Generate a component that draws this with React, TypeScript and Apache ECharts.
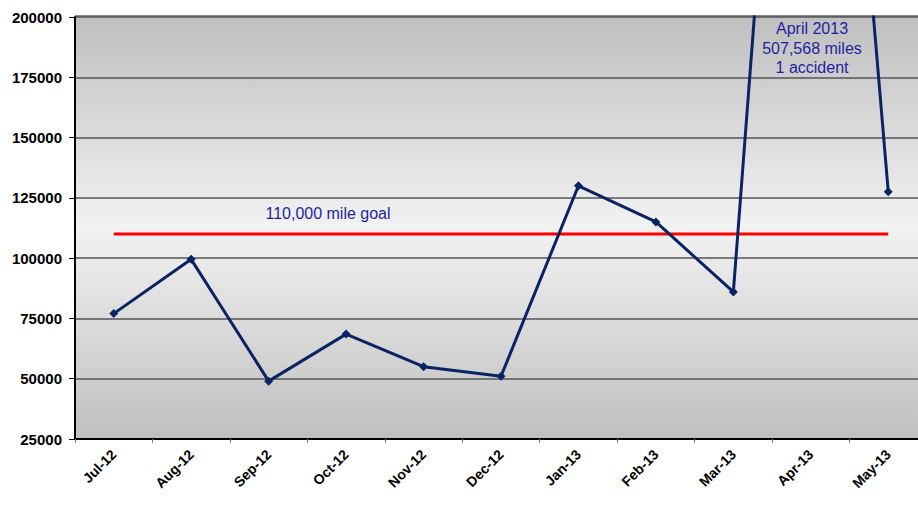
import React, { useEffect, useRef } from "react";
import * as echarts from "echarts";

const categories = ["Jul-12", "Aug-12", "Sep-12", "Oct-12", "Nov-12", "Dec-12", "Jan-13", "Feb-13", "Mar-13", "Apr-13", "May-13"];
const miles = [77000, 99500, 49000, 68500, 55000, 51000, 130000, 115000, 86000, 507568, 127500];
const goal = [110000, 110000, 110000, 110000, 110000, 110000, 110000, 110000, 110000, 110000, 110000];
const goalLabel = "110,000 mile goal";
const aprilNote = "April 2013\n507,568 miles\n1 accident";

export default function App() {
  const ref = useRef<HTMLDivElement>(null);
  useEffect(() => {
    if (!ref.current) return;
    const chart = echarts.init(ref.current, null, { renderer: "svg" });
    chart.setOption({
      animation: false,
      backgroundColor: "#ffffff",
      grid: {
        left: 75, top: 17, right: 0, bottom: 67,
        show: true,
        borderWidth: 0,
        backgroundColor: new echarts.graphic.LinearGradient(0, 0, 0, 1, [
          { offset: 0, color: "#bfbfbf" },
          { offset: 0.5, color: "#f2f2f2" },
          { offset: 1, color: "#bfbfbf" },
        ]),
      },
      xAxis: {
        type: "category",
        data: categories,
        boundaryGap: true,
        axisLine: { show: true, lineStyle: { color: "#000", width: 2 } },
        axisTick: { show: true, length: 4, lineStyle: { color: "#808080", width: 1 } },
        axisLabel: {
          rotate: 45,
          color: "#000",
          fontFamily: "Liberation Sans, Arial, sans-serif",
          fontWeight: "bold",
          fontSize: 14,
          margin: 13,
          interval: 0,
        },
        splitLine: { show: false },
      },
      yAxis: {
        type: "value",
        min: 25000,
        max: 200000,
        interval: 25000,
        axisLine: { show: true, lineStyle: { color: "#000", width: 2 } },
        axisTick: { show: true, length: 6, lineStyle: { color: "#000", width: 1 } },
        axisLabel: {
          color: "#000",
          fontFamily: "Liberation Sans, Arial, sans-serif",
          fontWeight: "bold",
          fontSize: 15,
          margin: 13,
          formatter: (v: number) => String(v),
        },
        splitLine: { show: true, lineStyle: { color: "#555", width: 1.5 } },
      },
      series: [
        {
          type: "line",
          data: goal,
          symbol: "none",
          lineStyle: { color: "#ff0000", width: 3 },
          z: 2,
        },
        {
          type: "line",
          data: miles,
          symbol: "diamond",
          symbolSize: 9,
          clip: true,
          itemStyle: { color: "#0a2463" },
          lineStyle: { color: "#0a2463", width: 3 },
          z: 3,
        },
      ],
      graphic: [
        {
          type: "rect",
          shape: { x: 75, y: 15, width: 852, height: 2 },
          style: { fill: "#888" },
          silent: true,
        },
        {
          type: "text",
          x: 812,
          y: 19,
          style: {
            text: aprilNote,
            fill: "#1f1fa0",
            fontFamily: "Liberation Sans, Arial, sans-serif",
            fontSize: 16,
            lineHeight: 19.5,
            align: "center",
          },
          silent: true,
        },
        {
          type: "text",
          x: 328,
          y: 205,
          style: {
            text: goalLabel,
            fill: "#1f1fa0",
            fontFamily: "Liberation Sans, Arial, sans-serif",
            fontSize: 16,
            align: "center",
          },
          silent: true,
        },
      ],
    });
    return () => chart.dispose();
  }, []);
  return (
    <div style={{ position: "fixed", left: 0, top: 0, width: 918, height: 506, overflow: "hidden" }}>
      <div ref={ref} style={{ width: 927, height: 506 }} />
    </div>
  );
}
